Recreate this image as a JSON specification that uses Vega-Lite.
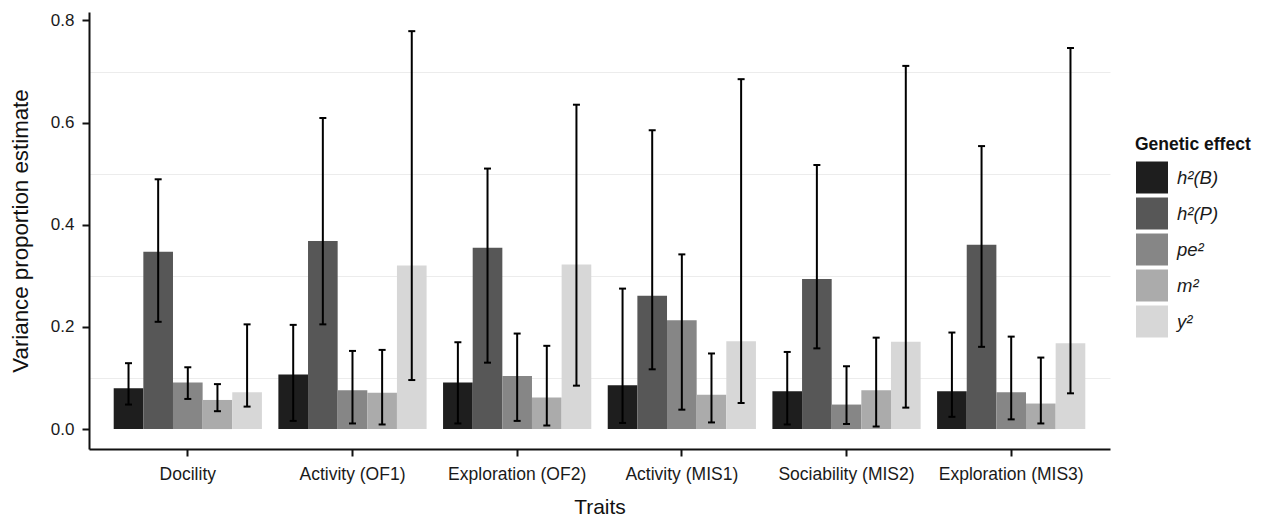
{
  "$schema": "https://vega.github.io/schema/vega-lite/v6.json",
  "width": 1021,
  "height": 437,
  "autosize": {"type": "none"},
  "padding": {"left": 89, "top": 12, "right": 155, "bottom": 69},
  "background": "white",
  "config": {"font": "Liberation Sans", "view": {"stroke": null}},
  "data": {
    "values": [
      {"trait": "Docility", "effect": "h²(B)", "value": 0.080, "lo": 0.048, "hi": 0.129},
      {"trait": "Docility", "effect": "h²(P)", "value": 0.347, "lo": 0.210, "hi": 0.489},
      {"trait": "Docility", "effect": "pe²", "value": 0.091, "lo": 0.059, "hi": 0.121},
      {"trait": "Docility", "effect": "m²", "value": 0.057, "lo": 0.035, "hi": 0.088},
      {"trait": "Docility", "effect": "y²", "value": 0.072, "lo": 0.044, "hi": 0.205},
      {"trait": "Activity (OF1)", "effect": "h²(B)", "value": 0.107, "lo": 0.016, "hi": 0.204},
      {"trait": "Activity (OF1)", "effect": "h²(P)", "value": 0.368, "lo": 0.205, "hi": 0.609},
      {"trait": "Activity (OF1)", "effect": "pe²", "value": 0.076, "lo": 0.011, "hi": 0.153},
      {"trait": "Activity (OF1)", "effect": "m²", "value": 0.071, "lo": 0.009, "hi": 0.155},
      {"trait": "Activity (OF1)", "effect": "y²", "value": 0.320, "lo": 0.096, "hi": 0.779},
      {"trait": "Exploration (OF2)", "effect": "h²(B)", "value": 0.091, "lo": 0.011, "hi": 0.170},
      {"trait": "Exploration (OF2)", "effect": "h²(P)", "value": 0.355, "lo": 0.130, "hi": 0.510},
      {"trait": "Exploration (OF2)", "effect": "pe²", "value": 0.104, "lo": 0.016, "hi": 0.187},
      {"trait": "Exploration (OF2)", "effect": "m²", "value": 0.062, "lo": 0.007, "hi": 0.163},
      {"trait": "Exploration (OF2)", "effect": "y²", "value": 0.322, "lo": 0.085, "hi": 0.635},
      {"trait": "Activity (MIS1)", "effect": "h²(B)", "value": 0.086, "lo": 0.012, "hi": 0.275},
      {"trait": "Activity (MIS1)", "effect": "h²(P)", "value": 0.261, "lo": 0.117, "hi": 0.585},
      {"trait": "Activity (MIS1)", "effect": "pe²", "value": 0.213, "lo": 0.038, "hi": 0.342},
      {"trait": "Activity (MIS1)", "effect": "m²", "value": 0.067, "lo": 0.013, "hi": 0.148},
      {"trait": "Activity (MIS1)", "effect": "y²", "value": 0.172, "lo": 0.051, "hi": 0.685},
      {"trait": "Sociability (MIS2)", "effect": "h²(B)", "value": 0.074, "lo": 0.009, "hi": 0.151},
      {"trait": "Sociability (MIS2)", "effect": "h²(P)", "value": 0.294, "lo": 0.158, "hi": 0.517},
      {"trait": "Sociability (MIS2)", "effect": "pe²", "value": 0.048, "lo": 0.010, "hi": 0.123},
      {"trait": "Sociability (MIS2)", "effect": "m²", "value": 0.076, "lo": 0.005, "hi": 0.179},
      {"trait": "Sociability (MIS2)", "effect": "y²", "value": 0.171, "lo": 0.042, "hi": 0.711},
      {"trait": "Exploration (MIS3)", "effect": "h²(B)", "value": 0.074, "lo": 0.024, "hi": 0.189},
      {"trait": "Exploration (MIS3)", "effect": "h²(P)", "value": 0.361, "lo": 0.161, "hi": 0.554},
      {"trait": "Exploration (MIS3)", "effect": "pe²", "value": 0.072, "lo": 0.019, "hi": 0.181},
      {"trait": "Exploration (MIS3)", "effect": "m²", "value": 0.050, "lo": 0.011, "hi": 0.140},
      {"trait": "Exploration (MIS3)", "effect": "y²", "value": 0.168, "lo": 0.070, "hi": 0.746}
    ]
  },
  "encoding": {
    "x": {
      "field": "trait",
      "type": "nominal",
      "sort": ["Docility", "Activity (OF1)", "Exploration (OF2)", "Activity (MIS1)", "Sociability (MIS2)", "Exploration (MIS3)"],
      "scale": {"paddingInner": 0.1, "paddingOuter": 0.15},
      "axis": {
        "title": "Traits",
        "titleFontSize": 21,
        "titleFontWeight": "normal",
        "titleColor": "#111111",
        "titlePadding": 14,
        "labelAngle": 0,
        "labelFontSize": 17.5,
        "labelColor": "#1a1a1a",
        "labelPadding": 9,
        "domainColor": "#111111",
        "domainWidth": 2,
        "tickColor": "#111111",
        "tickWidth": 2,
        "tickSize": 7,
        "grid": false
      }
    },
    "xOffset": {
      "field": "effect",
      "type": "nominal",
      "sort": ["h²(B)", "h²(P)", "pe²", "m²", "y²"],
      "scale": {"paddingInner": 0, "paddingOuter": 0}
    }
  },
  "layer": [
    {
      "mark": {"type": "bar"},
      "encoding": {
        "y": {
          "field": "value",
          "type": "quantitative",
          "scale": {"domain": [-0.039, 0.8165], "nice": false, "zero": false},
          "axis": {
            "title": "Variance proportion estimate",
            "titleFontSize": 22.3,
            "titleFontWeight": "normal",
            "titleColor": "#111111",
            "titlePadding": 18,
            "values": [0, 0.2, 0.4, 0.6, 0.8],
            "format": ".1f",
            "labelFontSize": 17,
            "labelColor": "#1a1a1a",
            "labelPadding": 8,
            "domainColor": "#111111",
            "domainWidth": 2,
            "tickColor": "#111111",
            "tickWidth": 2,
            "tickSize": 7,
            "grid": false
          }
        },
        "y2": {"datum": 0},
        "color": {
          "field": "effect",
          "type": "nominal",
          "sort": ["h²(B)", "h²(P)", "pe²", "m²", "y²"],
          "scale": {
            "domain": ["h²(B)", "h²(P)", "pe²", "m²", "y²"],
            "range": ["#1e1e1e", "#575757", "#868686", "#ababab", "#d7d7d7"]
          },
          "legend": {
            "title": "Genetic effect",
            "orient": "none",
            "legendX": 1046,
            "legendY": 124,
            "titleFontSize": 17.5,
            "titleFontWeight": "bold",
            "titleColor": "#111111",
            "titlePadding": 7,
            "labelFontSize": 18.5,
            "labelFontStyle": "italic",
            "labelColor": "#1a1a1a",
            "labelOffset": 8,
            "symbolType": "square",
            "symbolSize": 1089,
            "symbolStrokeColor": "white",
            "symbolStrokeWidth": 1,
            "symbolOpacity": 1,
            "rowPadding": -7
          }
        }
      }
    },
    {
      "mark": {"type": "rule", "color": "#000000", "strokeWidth": 2},
      "encoding": {
        "y": {
          "field": "lo",
          "type": "quantitative",
          "axis": {
            "orient": "right",
            "values": [0.1, 0.3, 0.5, 0.7],
            "grid": true,
            "gridColor": "#ececec",
            "gridWidth": 1,
            "labels": false,
            "ticks": false,
            "domain": false,
            "title": null
          }
        },
        "y2": {"field": "hi"}
      }
    },
    {
      "mark": {"type": "tick", "color": "#000000", "thickness": 2, "size": 7, "opacity": 1},
      "encoding": {"y": {"field": "lo", "type": "quantitative", "axis": null}}
    },
    {
      "mark": {"type": "tick", "color": "#000000", "thickness": 2, "size": 7, "opacity": 1},
      "encoding": {"y": {"field": "hi", "type": "quantitative", "axis": null}}
    }
  ],
  "resolve": {"axis": {"y": "independent"}}
}
